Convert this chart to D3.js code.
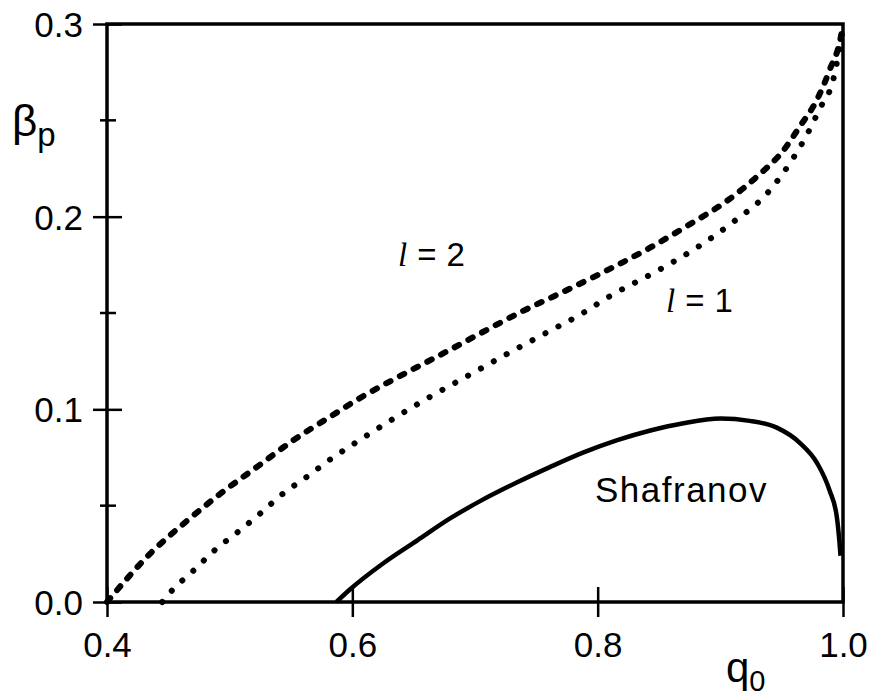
<!DOCTYPE html>
<html>
<head>
<meta charset="utf-8">
<script src="https://cdn.jsdelivr.net/npm/d3@7"></script>
<style>
  body { margin: 0; background: #fff; overflow: hidden; }
  svg { display: block; }
  text { font-family: "Liberation Sans", Arial, sans-serif; fill: #000; }
</style>
</head>
<body>
<div id="chart"></div>
<script>
var width = 877
var height = 699

// l = 2 (dashed)
const q2 = [0.400, 0.435, 0.465, 0.492, 0.522, 0.552, 0.584, 0.604, 0.641, 0.674, 0.706, 0.739, 0.772, 0.804, 0.843, 0.875, 0.905, 0.932, 0.951, 0.965, 0.979, 0.989, 0.999, 1.000];
const b2 = [0.000, 0.025, 0.042, 0.056, 0.070, 0.084, 0.097, 0.105, 0.118, 0.129, 0.140, 0.151, 0.161, 0.171, 0.184, 0.196, 0.208, 0.222, 0.234, 0.247, 0.261, 0.276, 0.296, 0.300];

// l = 1 (dotted)
const q1 = [0.445, 0.453, 0.470, 0.488, 0.506, 0.525, 0.543, 0.563, 0.582, 0.601, 0.662, 0.693, 0.724, 0.756, 0.788, 0.808, 0.849, 0.881, 0.910, 0.938, 0.959, 0.971, 0.981, 0.992, 1.000];
const b1 = [0.000, 0.006, 0.016, 0.027, 0.036, 0.046, 0.056, 0.065, 0.074, 0.082, 0.106, 0.117, 0.128, 0.139, 0.150, 0.158, 0.172, 0.184, 0.197, 0.212, 0.230, 0.243, 0.256, 0.271, 0.298];

// Shafranov (solid)
const qs = [0.587, 0.598, 0.625, 0.653, 0.680, 0.706, 0.734, 0.761, 0.788, 0.816, 0.843, 0.870, 0.900, 0.924, 0.946, 0.965, 0.979, 0.989, 0.995, 0.997, 0.998];
const bs = [0.000, 0.0065, 0.020, 0.032, 0.0435, 0.053, 0.062, 0.070, 0.0775, 0.084, 0.089, 0.0928, 0.0952, 0.094, 0.0905, 0.0825, 0.072, 0.058, 0.044, 0.032, 0.024];

const xTicks = [0.4, 0.6, 0.8, 1.0];
const xTickLabels = ["0.4", "0.6", "0.8", "1.0"];
const yTicks = [0.0, 0.1, 0.2, 0.3];
const yTickLabels = ["0.0", "0.1", "0.2", "0.3"];
const yMinor = [0.05, 0.15, 0.25];

const margin = {top: 24, right: 34, bottom: 97, left: 107};
const innerWidth = width - margin.left - margin.right;
const innerHeight = height - margin.top - margin.bottom;

var svg = d3.select("#chart").append("svg")
    .attr("width", width)
    .attr("height", height)

const g = svg.append("g")
    .attr("transform", `translate(${margin.left}, ${margin.top})`)

const xScale = d3.scaleLinear().domain([0.4, 1.0]).range([0, innerWidth]);
const yScale = d3.scaleLinear().domain([0, 0.3]).range([innerHeight, 0]);

// frame
g.append("rect")
    .attr("x", 0).attr("y", 0)
    .attr("width", innerWidth).attr("height", innerHeight)
    .attr("fill", "none").attr("stroke", "#000").attr("stroke-width", 3.5);

// x axis
const xAxis = d3.axisBottom(xScale).tickValues(xTicks)
    .tickFormat((d, i) => xTickLabels[i]).tickSize(0).tickPadding(0);
const xAxisG = g.append("g").attr("transform", `translate(0, ${innerHeight})`).call(xAxis)
    .attr("font-size", 35).attr("font-family", null);
xAxisG.select(".domain").remove();
xAxisG.selectAll(".tick line").attr("y1", -15).attr("y2", 15)
    .attr("stroke", "#000").attr("stroke-width", 2.5);
xAxisG.selectAll(".tick text").attr("y", 55).attr("dy", null).attr("fill", "#000");

// y axis
const yAxis = d3.axisLeft(yScale).tickValues(yTicks)
    .tickFormat((d, i) => yTickLabels[i]).tickSize(0).tickPadding(0);
const yAxisG = g.append("g").call(yAxis)
    .attr("font-size", 35).attr("font-family", null);
yAxisG.select(".domain").remove();
yAxisG.selectAll(".tick line").attr("x1", -14).attr("x2", 15)
    .attr("stroke", "#000").attr("stroke-width", 2.5);
yAxisG.selectAll(".tick text").attr("x", -24).attr("dy", "0.36em").attr("fill", "#000");

g.selectAll(".minor").data(yMinor).enter().append("line")
    .attr("class", "minor")
    .attr("x1", -7).attr("x2", 9)
    .attr("y1", d => yScale(d)).attr("y2", d => yScale(d))
    .attr("stroke", "#000").attr("stroke-width", 2.5);

// curves
const line = d3.line()
    .x(d => xScale(d[0]))
    .y(d => yScale(d[1]))
    .curve(d3.curveMonotoneX);

g.append("path")
    .attr("d", line(d3.zip(q2, b2)))
    .attr("fill", "none").attr("stroke", "#000")
    .attr("stroke-width", 6).attr("stroke-linecap", "round")
    .attr("stroke-dasharray", "5,10.5");

g.append("path")
    .attr("d", line(d3.zip(q1, b1)))
    .attr("fill", "none").attr("stroke", "#000")
    .attr("stroke-width", 6).attr("stroke-linecap", "round")
    .attr("stroke-dasharray", "0.1,14.6");

g.append("path")
    .attr("d", line(d3.zip(qs, bs)))
    .attr("fill", "none").attr("stroke", "#000")
    .attr("stroke-width", 4.5);

// axis titles
const xt = svg.append("text").attr("x", 726).attr("y", 682).attr("font-size", 42);
xt.append("tspan").text("q");
xt.append("tspan").attr("dy", 9).attr("font-size", 29).text("0");

const yt = svg.append("text").attr("x", 12).attr("y", 136).attr("font-size", 44);
yt.append("tspan").text("β");
yt.append("tspan").attr("dy", 10).attr("font-size", 33).text("p");

// curve labels
function ellLabel(x, y, n) {
    const t = svg.append("text").attr("x", x).attr("y", y).attr("font-size", 33);
    t.append("tspan").style("font-family", "'Liberation Serif', serif")
        .style("font-style", "italic").text("l");
    t.append("tspan").attr("dx", 10).text("=");
    t.append("tspan").attr("dx", 10).text(n);
}
ellLabel(398, 266, "2");
ellLabel(666, 312, "1");

svg.append("text").attr("x", 595).attr("y", 502)
    .attr("font-size", 35).style("letter-spacing", "1.5px")
    .text("Shafranov");
</script>
</body>
</html>
